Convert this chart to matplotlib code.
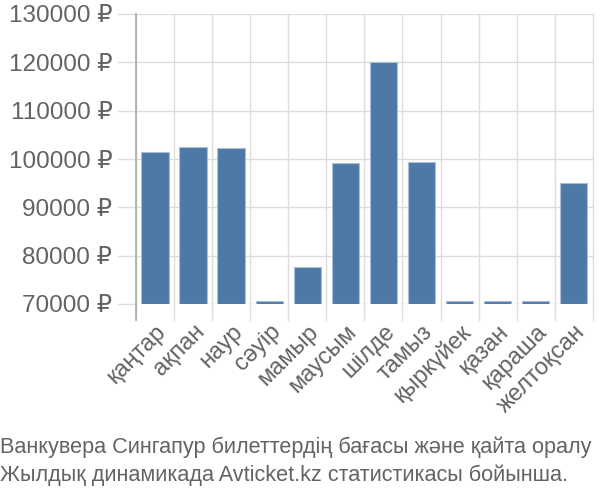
import matplotlib
matplotlib.use("Agg")
import matplotlib.pyplot as plt
import numpy as np

months = ["қаңтар", "ақпан", "наур", "сәуір", "мамыр", "маусым", "шілде",
          "тамыз", "қыркүйек", "қазан", "қараша", "желтоқсан"]
prices = [101450, 102550, 102200, 70700, 77600, 99250, 120000,
          99450, 70700, 70700, 70700, 95000]
yticks = [70000, 80000, 90000, 100000, 110000, 120000, 130000]
caption = ("Ванкувера Сингапур билеттердің бағасы және қайта оралу\n"
           "Жылдық динамикада Avticket.kz статистикасы бойынша.")

plt.rcParams['font.family'] = ['Liberation Sans', 'DejaVu Sans']
fig = plt.figure(figsize=(6, 5), dpi=100)
ax = fig.add_axes([0.2267, 0.392, 0.7613, 0.58])

x = np.arange(len(months))
ax.bar(x, np.array(prices) - 70000, bottom=70000, width=0.72,
       color="#4e79a7", edgecolor="#a9c0da", linewidth=0.8, zorder=3)

ax.set_xlim(-0.5, len(months) - 0.5)
ax.set_ylim(70000, 130000)
ax.set_yticks(yticks)
ax.set_yticklabels([f"{v} ₽" for v in yticks], fontsize=17.5, color="#636363")
ax.set_xticks(x)
ax.set_xticklabels(months, rotation=45, ha="right", va="top",
                   rotation_mode="anchor", fontsize=17, color="#636363")
ax.tick_params(axis='x', length=0, pad=12)
ax.tick_params(axis='y', length=0, pad=17)

# grid
for b in np.arange(-0.5, len(months), 1.0):
    ax.plot([b, b], [0, 1], transform=ax.get_xaxis_transform(),
            color="#dddddd", lw=1, zorder=1, clip_on=False)
    ax.plot([b, b], [0, -0.055], transform=ax.get_xaxis_transform(),
            color="#dddddd", lw=1, zorder=1, clip_on=False)
for v in yticks:
    ax.axhline(v, color="#dddddd", lw=1, zorder=1)
ax.plot([-0.5, -0.5], [-0.055, 1], transform=ax.get_xaxis_transform(),
        color="#aaaaaa", lw=1.2, zorder=4, clip_on=False)
for v in yticks:
    ax.plot([-0.5, -0.5 - 0.47], [v, v], color="#dddddd", lw=1, clip_on=False)

for s in ax.spines.values():
    s.set_visible(False)

fig.text(0.0, 0.028, caption, fontsize=15.6, color="#636363", ha="left",
         va="bottom", linespacing=1.4)

fig.savefig("out.png", dpi=100)
